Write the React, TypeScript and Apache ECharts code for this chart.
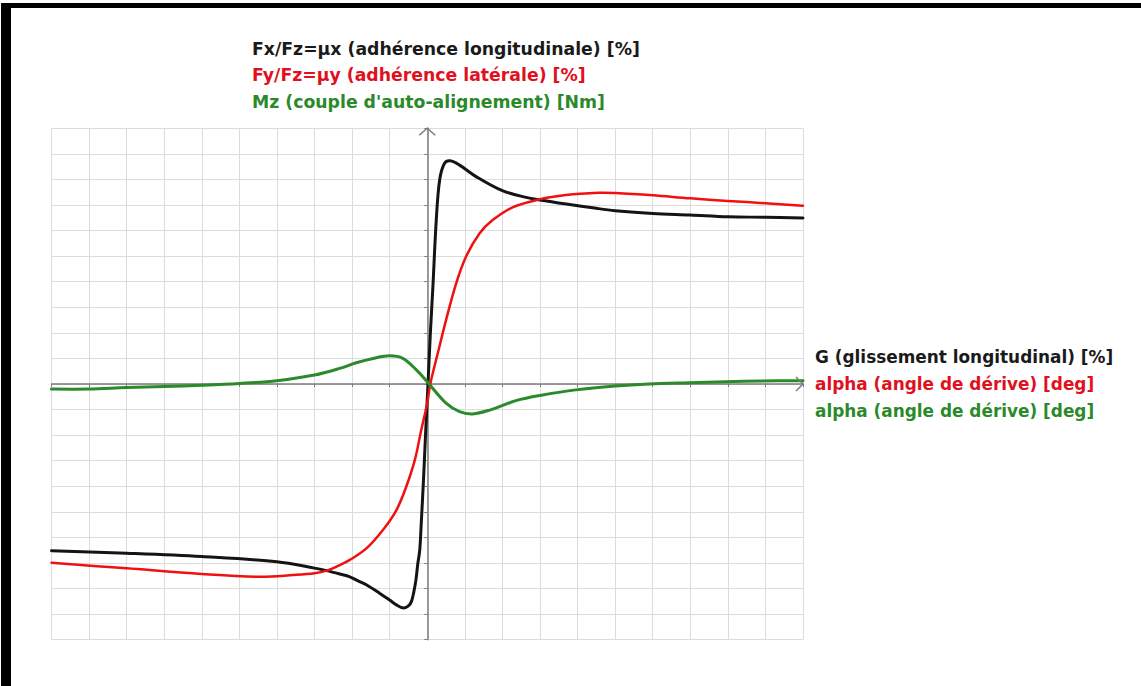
import React, { useEffect, useRef } from "react";
import * as echarts from "echarts";

// ---- Data ----
const fxX = [-10, -8, -6, -4, -3, -2.68, -2.33, -2.06, -1.8, -1.6, -1.26, -1.0, -0.82, -0.63, -0.5, -0.42, -0.36, -0.3, -0.25, -0.2, -0.16, -0.1, -0.04, 0.02, 0.08, 0.15, 0.24, 0.33, 0.46, 0.61, 0.86, 1.3, 2.0, 2.63, 3.0, 3.7, 4.5, 5, 6, 7, 8, 9, 10];
const fxY = [-6.52, -6.62, -6.75, -6.95, -7.2, -7.3, -7.43, -7.54, -7.73, -7.87, -8.19, -8.45, -8.64, -8.76, -8.68, -8.5, -8.15, -7.65, -7.01, -6.5, -5.45, -3.75, -1.8, 0, 1.9, 3.8, 6.41, 7.98, 8.63, 8.73, 8.56, 8.11, 7.56, 7.3, 7.2, 7.04, 6.87, 6.78, 6.67, 6.61, 6.54, 6.52, 6.49];

const fyX = [-10, -8, -6, -4.45, -3.56, -3.0, -2.68, -2.33, -2.06, -1.62, -1.18, -0.82, -0.56, -0.33, -0.16, 0, 0.08, 0.28, 0.5, 0.77, 1.03, 1.39, 1.74, 2.27, 2.98, 3.69, 4.57, 5, 6, 7, 8, 9, 10];
const fyY = [-6.99, -7.21, -7.43, -7.54, -7.47, -7.4, -7.3, -7.08, -6.88, -6.43, -5.71, -4.93, -4.02, -2.97, -1.8, -0.75, 0, 1.2, 2.5, 3.94, 4.98, 5.89, 6.41, 6.91, 7.22, 7.39, 7.48, 7.47, 7.38, 7.26, 7.16, 7.07, 6.97];

const mzX = [-10, -9, -8, -7, -6, -5, -4, -3, -2.33, -1.89, -1.44, -1.0, -0.65, -0.29, 0.02, 0.5, 0.86, 1.21, 1.66, 2.36, 3.07, 3.95, 5.01, 5.9, 6.96, 7.94, 8.9, 10];
const mzY = [-0.2, -0.2, -0.14, -0.1, -0.05, 0.02, 0.13, 0.35, 0.61, 0.83, 1.0, 1.1, 1.0, 0.55, 0.05, -0.75, -1.08, -1.17, -1.02, -0.65, -0.43, -0.23, -0.08, 0, 0.05, 0.09, 0.12, 0.13];

const axisMin = -10;
const axisMax = 10;
const axisStep = 1;

const topLabels = [
  "Fx/Fz=μx (adhérence longitudinale) [%]",
  "Fy/Fz=μy (adhérence latérale) [%]",
  "Mz (couple d'auto-alignement) [Nm]",
];
const rightLabels = [
  "G (glissement longitudinal) [%]",
  "alpha (angle de dérive) [deg]",
  "alpha (angle de dérive) [deg]",
];
const seriesNames = ["Fx/Fz", "Fy/Fz", "Mz"];
const labelColors = ["#1a1a1a", "#e0101e", "#2a8a2a"];
const lineColors = ["#141414", "#f01010", "#2b8a2b"];

const curves = [
  { xs: fxX, ys: fxY },
  { xs: fyX, ys: fyY },
  { xs: mzX, ys: mzY },
];

export default function App() {
  const ref = useRef<HTMLDivElement>(null);
  useEffect(() => {
    document.body.style.margin = "0";
    if (!ref.current) return;
    const chart = echarts.init(ref.current, null, { renderer: "svg" });
    const font = "'DejaVu Sans', Verdana, sans-serif";
    const axisCommon = {
      type: "value" as const,
      min: axisMin,
      max: axisMax,
      interval: axisStep,
      axisLabel: { show: false },
      axisLine: { show: true, onZero: true, lineStyle: { color: "#7c7c7c", width: 1.5 } },
      axisTick: { show: true, length: 3, lineStyle: { color: "#7c7c7c", width: 1 } },
      splitLine: { show: true, lineStyle: { color: "#dcdcdc", width: 1 } },
    };
    chart.setOption({
      animation: false,
      backgroundColor: "#ffffff",
      grid: { left: 51.5, right: 1141 - 803, top: 128.3, bottom: 686 - 639.7, containLabel: false },
      xAxis: axisCommon,
      yAxis: axisCommon,
      series: curves.map((c, i) => ({
        name: seriesNames[i],
        type: "custom",
        coordinateSystem: "cartesian2d",
        data: [[c.xs[0], c.ys[0]]],
        z: 3 + i,
        silent: true,
        renderItem: (_params: any, api: any) => {
          const pts = c.xs.map((x, k) => api.coord([x, c.ys[k]]));
          return {
            type: "polyline",
            shape: { points: pts, smooth: 0.35 },
            style: {
              stroke: lineColors[i],
              lineWidth: i === 1 ? 2.5 : 3,
              fill: "none",
              lineJoin: "round",
              lineCap: "round",
            },
          };
        },
      })),
    });

    const o = chart.convertToPixel({ gridIndex: 0 }, [0, 0]) as number[];
    const top = chart.convertToPixel({ gridIndex: 0 }, [0, axisMax]) as number[];
    const right = chart.convertToPixel({ gridIndex: 0 }, [axisMax, 0]) as number[];
    const arrowStyle = { stroke: "#7c7c7c", lineWidth: 1.5, fill: "none" };

    const graphics: any[] = [
      { type: "rect", shape: { x: 1, y: 3, width: 10, height: 683 }, style: { fill: "#000" }, z: 100 },
      { type: "rect", shape: { x: 1, y: 3, width: 1140, height: 5 }, style: { fill: "#000" }, z: 100 },
      {
        type: "polyline",
        shape: { points: [[top[0] - 8, top[1] + 7], [top[0], top[1]], [top[0] + 8, top[1] + 7]] },
        style: arrowStyle,
        z: 50,
      },
      {
        type: "polyline",
        shape: { points: [[right[0] - 7, o[1] - 7], [right[0], o[1]], [right[0] - 7, o[1] + 7]] },
        style: arrowStyle,
        z: 50,
      },
    ];
    topLabels.forEach((t, i) => {
      graphics.push({
        type: "text",
        x: 252,
        y: [48.5, 75, 101.5][i],
        style: {
          text: t,
          fill: labelColors[i],
          font: `bold 17.3px ${font}`,
          textVerticalAlign: "middle",
          textAlign: "left",
        },
        z: 60,
      });
    });
    rightLabels.forEach((t, i) => {
      graphics.push({
        type: "text",
        x: 815,
        y: [357, 384, 411][i],
        style: {
          text: t,
          fill: labelColors[i],
          font: `bold 16.9px ${font}`,
          textVerticalAlign: "middle",
          textAlign: "left",
        },
        z: 60,
      });
    });
    chart.setOption({ graphic: graphics });
    return () => chart.dispose();
  }, []);
  return <div ref={ref} style={{ width: 1141, height: 686 }} />;
}
